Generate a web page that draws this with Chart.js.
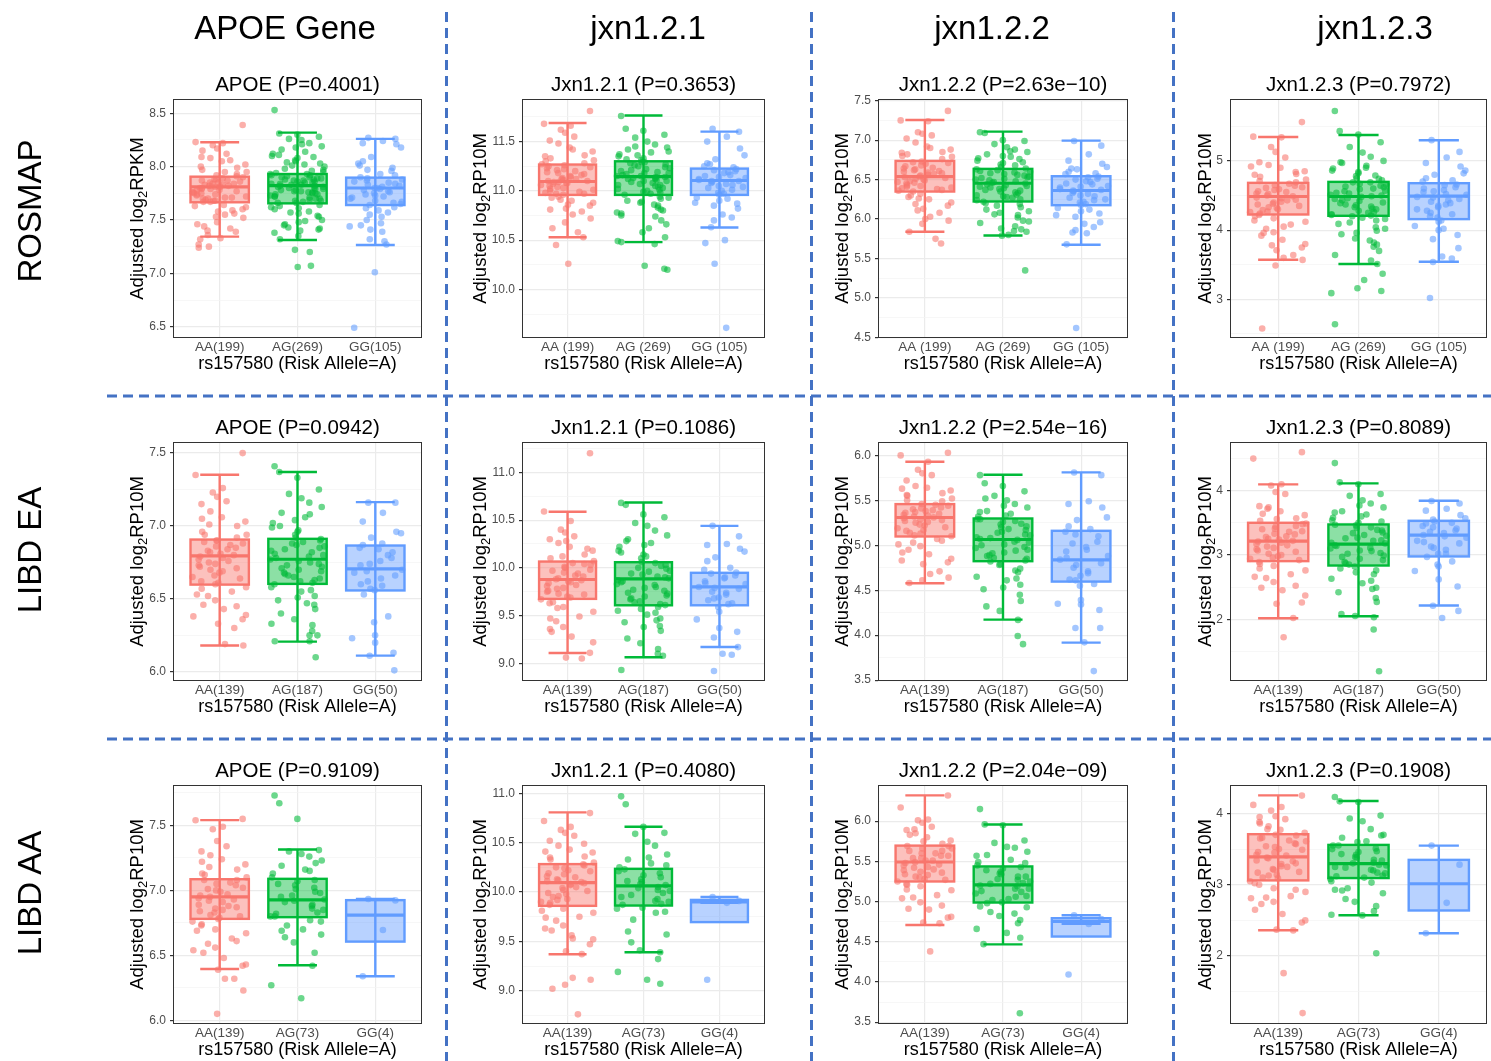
<!DOCTYPE html>
<html>
<head>
<meta charset="utf-8">
<title>rs157580 genotype boxplots</title>
<script src="https://cdn.jsdelivr.net/npm/chart.js@4.4.1/dist/chart.umd.min.js"></script>
<style>
  html, body { margin: 0; padding: 0; background: #fff; }
  body { position: relative; width: 1491px; height: 1061px; overflow: hidden; font-family: "Liberation Sans", Arial, Helvetica, sans-serif; }
  #guides { position: absolute; left: 0; top: 0; }
  .panel { position: absolute; }
  .colhead { position: absolute; font-size: 33px; color: #000; transform: translate(-50%, -50%); white-space: nowrap; }
  .rowhead { position: absolute; font-size: 33px; color: #000; transform: translate(-50%, -50%) rotate(-90deg); white-space: nowrap; }
</style>
</head>
<body>
<canvas id="guides" width="1491" height="1061"></canvas>
<script>
// ---- headings ----
const colNames = ['APOE Gene', 'jxn1.2.1', 'jxn1.2.2', 'jxn1.2.3'];
const rowNames = ['ROSMAP', 'LIBD EA', 'LIBD AA'];

// ---- genotype labels on the x axis ----
const rosmapTight = ['AA(199)', 'AG(269)', 'GG(105)'];
const rosmapSpaced = ['AA (199)', 'AG (269)', 'GG (105)'];
const eaLabels = ['AA(139)', 'AG(187)', 'GG(50)'];
const aaLabels = ['AA(139)', 'AG(73)', 'GG(4)'];

// ---- box summaries: [lower whisker, Q1, median, Q3, upper whisker] for AA, AG, GG ----
const rosmapApoeStats = [[7.344, 7.666, 7.81, 7.906, 8.228], [7.313, 7.656, 7.822, 7.931, 8.319], [7.266, 7.64, 7.80, 7.897, 8.26]];
const rosmapJ1Stats = [[10.53, 10.959, 11.095, 11.267, 11.689], [10.48, 10.959, 11.145, 11.30, 11.764], [10.628, 10.959, 11.105, 11.226, 11.601]];
const rosmapJ2Stats = [[5.839, 6.349, 6.539, 6.737, 7.255], [5.793, 6.223, 6.454, 6.636, 7.108], [5.675, 6.176, 6.362, 6.543, 6.994]];
const rosmapJ3Stats = [[3.572, 4.226, 4.486, 4.683, 5.346], [3.51, 4.207, 4.486, 4.697, 5.375], [3.543, 4.159, 4.49, 4.678, 5.298]];
const eaApoeStats = [[6.18, 6.598, 6.795, 6.907, 7.351], [6.207, 6.603, 6.772, 6.912, 7.37], [6.111, 6.558, 6.706, 6.866, 7.164]];
const eaJ1Stats = [[9.108, 9.675, 9.878, 10.066, 10.587], [9.063, 9.608, 9.885, 10.059, 10.685], [9.171, 9.608, 9.80, 9.948, 10.44]];
const eaJ2Stats = [[4.578, 5.098, 5.309, 5.458, 5.929], [4.173, 4.823, 5.064, 5.298, 5.785], [3.917, 4.596, 4.838, 5.161, 5.811]];
const eaJ3Stats = [[2.016, 2.904, 3.216, 3.501, 4.099], [2.047, 2.836, 3.169, 3.475, 4.114], [2.213, 2.977, 3.309, 3.532, 3.844]];
const aaApoeStats = [[6.395, 6.781, 6.95, 7.086, 7.541], [6.424, 6.794, 6.927, 7.089, 7.315], [6.339, 6.606, 6.809, 6.925, 6.934]];
const aaJ1Stats = [[9.369, 9.86, 10.096, 10.283, 10.807], [9.389, 9.863, 10.063, 10.235, 10.662], [9.89, 9.695, 9.90, 9.92, 9.95]];
const aaJ2Stats = [[4.709, 5.25, 5.492, 5.696, 6.321], [4.467, 4.988, 5.208, 5.437, 5.958], [4.722, 4.565, 4.752, 4.793, 4.83]];
const aaJ3Stats = [[2.362, 3.061, 3.39, 3.709, 4.254], [2.573, 3.094, 3.296, 3.559, 4.174], [2.319, 2.639, 3.014, 3.349, 3.549]];

// ---- sample values per genotype ----
const rosmapApoeAA = [8.39, 8.23, 8.22, 8.20, 8.17, 8.12, 8.09, 8.08, 8.05, 8.02, 7.99, 7.97, 7.95, 7.93, 7.92, 7.90, 7.88, 7.87, 7.85, 7.84, 7.83, 7.82, 7.81, 7.80, 7.79, 7.78, 7.76, 7.75, 7.74, 7.72, 7.71, 7.70, 7.68, 7.67, 7.64, 7.62, 7.60, 7.58, 7.56, 7.55, 7.52, 7.48, 7.44, 7.42, 7.39, 7.36, 7.33, 7.32, 7.27, 7.25, 7.24,
  7.91, 7.89, 7.88, 7.86, 7.85, 7.83, 7.82, 7.80, 7.79, 7.78, 7.77, 7.76, 7.74, 7.73, 7.71, 7.69, 7.68, 7.67, 7.84, 7.81, 7.87, 7.75, 7.70, 7.95, 8.00, 8.06, 8.15, 7.63, 7.59, 7.53, 7.46, 7.40];
const rosmapApoeAG = [8.53, 8.31, 8.30, 8.28, 8.26, 8.25, 8.22, 8.19, 8.16, 8.14, 8.12, 8.10, 8.08, 8.06, 8.05, 8.03, 8.01, 8.00, 7.98, 7.96, 7.95, 7.94, 7.93, 7.92, 7.91, 7.90, 7.89, 7.88, 7.87, 7.86, 7.85, 7.84, 7.83, 7.82, 7.81, 7.80, 7.79, 7.78, 7.77, 7.76, 7.75, 7.74, 7.72, 7.71, 7.70, 7.68, 7.67, 7.66, 7.64, 7.62, 7.60, 7.58, 7.56, 7.53, 7.50, 7.48, 7.45, 7.43, 7.42, 7.40, 7.38, 7.35, 7.32, 7.22, 7.20, 7.07, 7.06,
  7.93, 7.92, 7.90, 7.89, 7.88, 7.86, 7.85, 7.84, 7.83, 7.81, 7.80, 7.79, 7.78, 7.76, 7.75, 7.73, 7.72, 7.70, 7.69, 7.68, 7.66, 7.87, 7.82, 7.77, 7.74, 7.97, 8.02, 8.04, 8.09, 8.11, 8.18, 8.21, 7.63, 7.61, 7.57, 7.54, 7.49, 7.46, 7.41];
const rosmapApoeGG = [8.27, 8.26, 8.24, 8.22, 8.21, 8.18, 8.09, 8.05, 8.01, 7.99, 7.96, 7.93, 7.90, 7.88, 7.86, 7.84, 7.83, 7.81, 7.80, 7.78, 7.77, 7.75, 7.73, 7.71, 7.68, 7.66, 7.64, 7.62, 7.59, 7.57, 7.55, 7.50, 7.47, 7.45, 7.41, 7.39, 7.32, 7.30, 7.27, 7.01, 6.49,
  7.89, 7.87, 7.85, 7.82, 7.80, 7.79, 7.76, 7.74, 7.72, 7.70, 7.67, 7.65, 7.92, 7.97, 8.03, 7.61, 7.53, 7.44];

const rosmapJ1AA = [11.81, 11.68, 11.66, 11.62, 11.59, 11.55, 11.51, 11.48, 11.44, 11.40, 11.36, 11.33, 11.31, 11.28, 11.26, 11.24, 11.22, 11.20, 11.18, 11.16, 11.14, 11.12, 11.11, 11.10, 11.09, 11.08, 11.06, 11.05, 11.03, 11.01, 10.99, 10.97, 10.96, 10.93, 10.90, 10.88, 10.85, 10.82, 10.79, 10.76, 10.72, 10.68, 10.62, 10.58, 10.53, 10.45, 10.26,
  11.25, 11.23, 11.21, 11.19, 11.17, 11.15, 11.13, 11.10, 11.08, 11.07, 11.04, 11.02, 11.00, 10.98, 10.97, 11.27, 11.30, 11.35, 11.42, 11.09, 11.12, 10.94, 10.91, 10.86, 10.81];
const rosmapJ1AG = [11.76, 11.63, 11.61, 11.57, 11.54, 11.50, 11.47, 11.44, 11.42, 11.39, 11.37, 11.35, 11.33, 11.31, 11.29, 11.27, 11.25, 11.23, 11.21, 11.19, 11.18, 11.16, 11.15, 11.14, 11.13, 11.12, 11.10, 11.09, 11.07, 11.06, 11.04, 11.02, 11.00, 10.98, 10.96, 10.94, 10.92, 10.90, 10.88, 10.85, 10.83, 10.80, 10.77, 10.74, 10.70, 10.66, 10.62, 10.58, 10.53, 10.49, 10.48, 10.46, 10.24, 10.21, 10.20,
  11.29, 11.28, 11.26, 11.24, 11.22, 11.20, 11.18, 11.17, 11.15, 11.13, 11.11, 11.10, 11.08, 11.06, 11.05, 11.03, 11.01, 10.99, 10.97, 11.32, 11.36, 11.40, 11.45, 10.93, 10.89, 10.86, 10.81, 10.78, 10.75, 11.14, 11.12];
const rosmapJ1GG = [11.63, 11.60, 11.55, 11.50, 11.43, 11.36, 11.32, 11.28, 11.25, 11.22, 11.20, 11.18, 11.15, 11.13, 11.11, 11.10, 11.09, 11.07, 11.05, 11.03, 11.01, 10.98, 10.96, 10.93, 10.90, 10.87, 10.85, 10.82, 10.76, 10.73, 10.70, 10.63, 10.50, 10.47, 10.26, 9.61,
  11.21, 11.19, 11.16, 11.14, 11.12, 11.10, 11.08, 11.06, 11.04, 11.00, 10.97, 11.24, 11.27, 10.92, 10.88];

const rosmapJ2AA = [7.37, 7.25, 7.24, 7.10, 7.08, 7.06, 7.02, 6.97, 6.92, 6.88, 6.85, 6.82, 6.79, 6.76, 6.73, 6.71, 6.68, 6.65, 6.63, 6.61, 6.59, 6.57, 6.55, 6.53, 6.51, 6.49, 6.47, 6.45, 6.42, 6.40, 6.38, 6.35, 6.32, 6.28, 6.25, 6.21, 6.17, 6.13, 6.08, 6.03, 5.98, 5.94, 5.84, 5.75, 5.69,
  6.72, 6.70, 6.67, 6.64, 6.62, 6.60, 6.58, 6.56, 6.54, 6.52, 6.50, 6.48, 6.46, 6.43, 6.41, 6.39, 6.37, 6.36, 6.80, 6.84, 6.90, 6.30, 6.26, 6.19, 6.11, 6.00];
const rosmapJ2AG = [7.10, 7.09, 7.00, 6.99, 6.95, 6.91, 6.88, 6.85, 6.82, 6.79, 6.77, 6.74, 6.71, 6.69, 6.66, 6.64, 6.62, 6.60, 6.58, 6.56, 6.54, 6.52, 6.50, 6.48, 6.46, 6.44, 6.42, 6.40, 6.38, 6.36, 6.33, 6.30, 6.28, 6.25, 6.22, 6.19, 6.15, 6.12, 6.08, 6.05, 6.02, 5.98, 5.95, 5.91, 5.87, 5.84, 5.80, 5.79, 5.35,
  6.63, 6.61, 6.59, 6.57, 6.55, 6.53, 6.51, 6.49, 6.47, 6.45, 6.43, 6.41, 6.39, 6.37, 6.35, 6.34, 6.31, 6.29, 6.27, 6.24, 6.68, 6.72, 6.76, 6.80, 6.86, 6.20, 6.17, 6.10, 6.06, 5.97, 5.88, 5.85];
const rosmapJ2GG = [6.99, 6.93, 6.82, 6.74, 6.70, 6.66, 6.63, 6.60, 6.57, 6.54, 6.51, 6.48, 6.45, 6.42, 6.40, 6.37, 6.35, 6.32, 6.30, 6.27, 6.24, 6.21, 6.18, 6.14, 6.10, 6.07, 6.03, 5.96, 5.94, 5.90, 5.86, 5.83, 5.82, 5.68, 4.62,
  6.53, 6.50, 6.47, 6.44, 6.41, 6.38, 6.36, 6.33, 6.29, 6.25, 6.22, 6.19, 6.58, 6.64, 6.12, 6.05];

const rosmapJ3AA = [5.56, 5.35, 5.34, 5.20, 5.13, 5.05, 4.98, 4.94, 4.90, 4.85, 4.81, 4.77, 4.73, 4.69, 4.65, 4.62, 4.58, 4.55, 4.52, 4.49, 4.46, 4.43, 4.40, 4.37, 4.33, 4.30, 4.26, 4.22, 4.17, 4.12, 4.08, 4.02, 3.97, 3.92, 3.86, 3.80, 3.75, 3.71, 3.64, 3.60, 3.57, 3.49, 2.58,
  4.67, 4.64, 4.61, 4.59, 4.56, 4.53, 4.50, 4.47, 4.44, 4.41, 4.38, 4.35, 4.32, 4.29, 4.27, 4.24, 4.71, 4.80, 4.84, 4.92, 4.20, 4.14, 4.05, 3.96, 3.78];
const rosmapJ3AG = [5.72, 5.43, 5.38, 5.27, 5.20, 5.12, 5.06, 5.00, 4.97, 4.93, 4.89, 4.86, 4.82, 4.78, 4.75, 4.72, 4.69, 4.66, 4.63, 4.60, 4.57, 4.54, 4.51, 4.49, 4.46, 4.43, 4.40, 4.37, 4.33, 4.30, 4.26, 4.22, 4.18, 4.14, 4.09, 4.04, 3.99, 3.94, 3.88, 3.82, 3.76, 3.70, 3.64, 3.56, 3.51, 3.37, 3.28, 3.16, 3.12, 3.09, 2.64,
  4.69, 4.67, 4.64, 4.62, 4.59, 4.56, 4.53, 4.50, 4.48, 4.45, 4.42, 4.39, 4.36, 4.34, 4.31, 4.28, 4.25, 4.23, 4.21, 4.74, 4.79, 4.84, 4.90, 4.98, 4.20, 4.16, 4.11, 4.02, 3.96, 3.85, 3.79];
const rosmapJ3GG = [5.30, 5.13, 5.05, 4.97, 4.92, 4.86, 4.80, 4.75, 4.70, 4.66, 4.62, 4.58, 4.55, 4.51, 4.48, 4.45, 4.41, 4.37, 4.33, 4.28, 4.23, 4.18, 4.12, 4.06, 4.00, 3.93, 3.87, 3.74, 3.62, 3.59, 3.54, 3.02,
  4.65, 4.60, 4.56, 4.52, 4.47, 4.43, 4.39, 4.35, 4.30, 4.25, 4.20, 4.72, 4.82, 4.14, 4.02];

const eaApoeAA = [7.50, 7.35, 7.26, 7.23, 7.20, 7.17, 7.15, 7.10, 7.06, 7.03, 7.00, 6.96, 6.94, 6.92, 6.90, 6.88, 6.86, 6.84, 6.82, 6.80, 6.78, 6.76, 6.74, 6.72, 6.70, 6.68, 6.65, 6.62, 6.60, 6.58, 6.55, 6.52, 6.49, 6.46, 6.43, 6.39, 6.36, 6.33, 6.30, 6.19, 6.18,
  6.90, 6.89, 6.87, 6.85, 6.83, 6.81, 6.79, 6.77, 6.75, 6.73, 6.71, 6.69, 6.66, 6.64, 6.61, 6.94, 7.01, 7.05, 6.57, 6.53, 6.45, 6.38];
const eaApoeAG = [7.41, 7.37, 7.33, 7.25, 7.22, 7.19, 7.16, 7.13, 7.09, 7.06, 7.02, 6.99, 6.96, 6.94, 6.92, 6.90, 6.88, 6.86, 6.84, 6.82, 6.80, 6.78, 6.77, 6.75, 6.73, 6.71, 6.69, 6.67, 6.65, 6.63, 6.61, 6.58, 6.55, 6.52, 6.49, 6.46, 6.43, 6.40, 6.36, 6.32, 6.28, 6.25, 6.21, 6.21, 6.10,
  6.91, 6.89, 6.87, 6.85, 6.83, 6.81, 6.79, 6.76, 6.74, 6.72, 6.70, 6.68, 6.66, 6.64, 6.62, 6.60, 6.97, 7.00, 7.04, 7.08, 6.56, 6.51, 6.47, 6.33, 6.25];
const eaApoeGG = [7.16, 7.16, 7.09, 7.03, 6.96, 6.95, 6.92, 6.87, 6.85, 6.82, 6.78, 6.76, 6.73, 6.70, 6.68, 6.66, 6.62, 6.59, 6.56, 6.53, 6.38, 6.34, 6.25, 6.23, 6.20, 6.13, 6.11, 6.01,
  6.84, 6.80, 6.74, 6.69, 6.64, 6.60, 6.57, 6.88];

const eaJ1AA = [11.20, 10.59, 10.49, 10.40, 10.37, 10.33, 10.30, 10.26, 10.22, 10.18, 10.14, 10.10, 10.07, 10.04, 10.01, 9.98, 9.95, 9.92, 9.89, 9.87, 9.85, 9.82, 9.79, 9.76, 9.73, 9.70, 9.67, 9.63, 9.59, 9.54, 9.49, 9.44, 9.38, 9.33, 9.28, 9.22, 9.11, 9.06, 9.05,
  10.05, 10.03, 10.00, 9.97, 9.94, 9.91, 9.88, 9.86, 9.84, 9.81, 9.78, 9.75, 9.72, 9.69, 10.12, 10.20, 10.28, 9.64, 9.58, 9.47, 9.36];
const eaJ1AG = [10.68, 10.66, 10.56, 10.53, 10.47, 10.44, 10.39, 10.34, 10.30, 10.26, 10.22, 10.18, 10.14, 10.10, 10.06, 10.03, 10.00, 9.97, 9.94, 9.91, 9.89, 9.86, 9.83, 9.80, 9.77, 9.74, 9.71, 9.68, 9.65, 9.62, 9.59, 9.55, 9.51, 9.47, 9.43, 9.39, 9.34, 9.26, 9.21, 9.15, 9.10, 9.08, 8.93,
  10.05, 10.02, 9.99, 9.96, 9.93, 9.90, 9.87, 9.85, 9.82, 9.79, 9.76, 9.73, 9.70, 9.67, 9.64, 9.61, 10.12, 10.16, 10.24, 10.28, 9.57, 9.53, 9.45, 9.38];
const eaJ1GG = [10.44, 10.33, 10.25, 10.24, 10.20, 10.17, 10.11, 10.07, 9.98, 9.95, 9.92, 9.89, 9.86, 9.83, 9.80, 9.78, 9.75, 9.72, 9.69, 9.66, 9.63, 9.59, 9.54, 9.46, 9.37, 9.33, 9.27, 9.17, 9.10, 9.09, 8.92,
  9.94, 9.90, 9.84, 9.79, 9.74, 9.68, 9.62, 10.00];

const eaJ2AA = [6.03, 6.00, 5.93, 5.84, 5.80, 5.78, 5.72, 5.66, 5.64, 5.61, 5.58, 5.55, 5.52, 5.49, 5.46, 5.44, 5.41, 5.39, 5.37, 5.35, 5.33, 5.31, 5.29, 5.27, 5.25, 5.22, 5.19, 5.16, 5.13, 5.10, 5.07, 5.03, 4.99, 4.95, 4.90, 4.85, 4.81, 4.79, 4.71, 4.68, 4.64, 4.61, 4.58,
  5.45, 5.42, 5.40, 5.38, 5.36, 5.34, 5.32, 5.30, 5.28, 5.26, 5.23, 5.20, 5.17, 5.14, 5.11, 5.50, 5.56, 5.63, 5.05, 5.01, 4.92, 4.83];
const eaJ2AG = [5.78, 5.69, 5.66, 5.60, 5.55, 5.50, 5.46, 5.42, 5.38, 5.35, 5.32, 5.29, 5.26, 5.23, 5.20, 5.17, 5.14, 5.11, 5.08, 5.06, 5.03, 5.00, 4.97, 4.94, 4.91, 4.88, 4.85, 4.82, 4.78, 4.74, 4.70, 4.65, 4.61, 4.56, 4.51, 4.45, 4.38, 4.32, 4.27, 4.17, 3.99, 3.90,
  5.29, 5.27, 5.24, 5.21, 5.18, 5.15, 5.12, 5.09, 5.07, 5.04, 5.01, 4.98, 4.95, 4.92, 4.89, 4.86, 4.83, 5.33, 5.37, 5.44, 5.52, 4.79, 4.72, 4.63, 4.53];
const eaJ2GG = [5.81, 5.78, 5.49, 5.46, 5.42, 5.31, 5.28, 5.21, 5.15, 5.10, 5.04, 4.98, 4.93, 4.88, 4.84, 4.80, 4.75, 4.71, 4.66, 4.62, 4.57, 4.55, 4.39, 4.35, 4.34, 4.28, 4.08, 4.08, 3.92, 3.60,
  5.12, 5.02, 4.95, 4.86, 4.78, 4.69, 4.61, 5.18];

const eaJ3AA = [4.60, 4.50, 4.10, 4.08, 3.98, 3.95, 3.76, 3.74, 3.68, 3.62, 3.57, 3.53, 3.49, 3.45, 3.41, 3.37, 3.33, 3.29, 3.25, 3.22, 3.19, 3.15, 3.11, 3.07, 3.02, 2.98, 2.94, 2.89, 2.83, 2.76, 2.70, 2.64, 2.58, 2.49, 2.45, 2.37, 2.26, 2.24, 2.02, 1.72,
  3.48, 3.44, 3.40, 3.36, 3.32, 3.28, 3.24, 3.21, 3.17, 3.13, 3.09, 3.05, 3.00, 2.96, 2.92, 3.56, 3.64, 3.72, 2.86, 2.79, 2.66, 2.52];
const eaJ3AG = [4.43, 4.13, 4.10, 3.95, 3.92, 3.85, 3.80, 3.74, 3.68, 3.63, 3.58, 3.54, 3.50, 3.46, 3.42, 3.38, 3.34, 3.30, 3.26, 3.22, 3.18, 3.14, 3.10, 3.06, 3.02, 2.97, 2.92, 2.87, 2.82, 2.76, 2.70, 2.63, 2.56, 2.49, 2.42, 2.33, 2.27, 2.08, 2.05, 2.03, 1.84, 1.19,
  3.47, 3.43, 3.39, 3.35, 3.31, 3.27, 3.23, 3.19, 3.15, 3.11, 3.07, 3.03, 2.99, 2.94, 2.89, 2.85, 3.52, 3.60, 3.66, 3.77, 2.79, 2.73, 2.60, 2.47];
const eaJ3GG = [3.84, 3.80, 3.72, 3.69, 3.62, 3.57, 3.52, 3.49, 3.45, 3.41, 3.38, 3.34, 3.31, 3.27, 3.22, 3.18, 3.13, 3.08, 3.02, 2.97, 2.90, 2.85, 2.82, 2.75, 2.62, 2.51, 2.21, 2.13, 2.02,
  3.50, 3.43, 3.36, 3.29, 3.20, 3.11, 3.02, 3.55];

const aaApoeAA = [7.55, 7.54, 7.49, 7.47, 7.38, 7.34, 7.30, 7.27, 7.24, 7.20, 7.16, 7.13, 7.10, 7.08, 7.05, 7.02, 7.00, 6.97, 6.95, 6.93, 6.91, 6.88, 6.86, 6.84, 6.81, 6.79, 6.76, 6.73, 6.70, 6.67, 6.63, 6.59, 6.56, 6.52, 6.48, 6.43, 6.42, 6.39, 6.32, 6.32, 6.23, 6.05,
  7.08, 7.06, 7.04, 7.01, 6.99, 6.96, 6.94, 6.92, 6.89, 6.87, 6.85, 6.83, 6.80, 6.78, 7.12, 7.18, 7.22, 6.74, 6.69, 6.61, 6.54];
const aaApoeAG = [7.73, 7.67, 7.55, 7.31, 7.30, 7.28, 7.26, 7.23, 7.19, 7.16, 7.13, 7.10, 7.07, 7.04, 7.01, 6.98, 6.96, 6.93, 6.91, 6.88, 6.85, 6.82, 6.80, 6.77, 6.73, 6.69, 6.66, 6.64, 6.60, 6.52, 6.42, 6.27, 6.17,
  7.08, 7.05, 7.02, 6.99, 6.95, 6.92, 6.89, 6.86, 6.83, 6.80, 7.15, 7.21, 6.76, 6.70];
const aaApoeGG = [6.934, 6.923, 6.695, 6.339];

const aaJ1AA = [10.80, 10.72, 10.66, 10.63, 10.60, 10.57, 10.52, 10.47, 10.43, 10.40, 10.36, 10.33, 10.30, 10.27, 10.24, 10.21, 10.18, 10.15, 10.12, 10.10, 10.08, 10.05, 10.02, 9.99, 9.96, 9.93, 9.90, 9.87, 9.83, 9.79, 9.75, 9.71, 9.66, 9.61, 9.56, 9.52, 9.47, 9.40, 9.37, 9.13, 9.11, 9.06, 9.02, 8.76,
  10.28, 10.25, 10.22, 10.19, 10.16, 10.13, 10.11, 10.09, 10.07, 10.04, 10.01, 9.98, 9.95, 9.92, 9.89, 10.35, 10.41, 10.49, 9.81, 9.74, 9.63, 9.53];
const aaJ1AG = [10.97, 10.89, 10.66, 10.60, 10.59, 10.51, 10.47, 10.38, 10.33, 10.29, 10.25, 10.21, 10.17, 10.13, 10.10, 10.07, 10.04, 10.01, 9.97, 9.93, 9.90, 9.87, 9.83, 9.79, 9.72, 9.60, 9.57, 9.49, 9.41, 9.39, 9.32, 9.19, 9.11, 9.07,
  10.23, 10.19, 10.15, 10.11, 10.08, 10.05, 10.02, 9.99, 9.95, 9.91, 9.88, 10.27, 10.35, 9.84, 9.80];
const aaJ1GG = [9.95, 9.91, 9.89, 9.11];

const aaJ2AA = [6.32, 6.17, 6.02, 6.01, 5.98, 5.93, 5.89, 5.85, 5.80, 5.76, 5.72, 5.69, 5.66, 5.63, 5.60, 5.57, 5.54, 5.51, 5.49, 5.46, 5.43, 5.40, 5.37, 5.34, 5.31, 5.28, 5.25, 5.22, 5.19, 5.14, 5.08, 5.05, 4.99, 4.91, 4.90, 4.81, 4.80, 4.74, 4.73, 4.38,
  5.69, 5.66, 5.63, 5.60, 5.57, 5.54, 5.51, 5.48, 5.45, 5.42, 5.39, 5.36, 5.33, 5.30, 5.27, 5.75, 5.83, 5.90, 5.21, 5.15, 5.04, 4.95];
const aaJ2AG = [6.15, 5.96, 5.95, 5.76, 5.73, 5.68, 5.67, 5.62, 5.58, 5.52, 5.49, 5.45, 5.41, 5.37, 5.34, 5.31, 5.28, 5.25, 5.22, 5.19, 5.16, 5.13, 5.10, 5.06, 5.02, 4.98, 4.93, 4.87, 4.82, 4.77, 4.73, 4.66, 4.61, 4.55, 4.47, 3.61,
  5.43, 5.39, 5.35, 5.31, 5.27, 5.23, 5.20, 5.16, 5.12, 5.07, 5.03, 4.99, 5.48, 5.57, 4.94, 4.85];
const aaJ2GG = [4.83, 4.781, 4.722, 4.093];

const aaJ3AA = [4.25, 4.12, 4.09, 4.04, 3.96, 3.92, 3.88, 3.82, 3.77, 3.73, 3.69, 3.65, 3.61, 3.57, 3.53, 3.49, 3.45, 3.41, 3.37, 3.33, 3.29, 3.25, 3.21, 3.17, 3.13, 3.09, 3.05, 3.00, 2.95, 2.90, 2.84, 2.82, 2.76, 2.73, 2.59, 2.50, 2.47, 2.37, 2.36, 1.76, 1.20,
  3.70, 3.66, 3.62, 3.58, 3.54, 3.50, 3.46, 3.42, 3.38, 3.34, 3.30, 3.26, 3.22, 3.18, 3.14, 3.10, 3.78, 3.86, 3.95, 3.02, 2.93, 2.81, 2.65];
const aaJ3AG = [4.23, 4.17, 4.16, 3.97, 3.93, 3.89, 3.78, 3.70, 3.66, 3.61, 3.55, 3.50, 3.46, 3.42, 3.38, 3.34, 3.30, 3.27, 3.24, 3.20, 3.16, 3.12, 3.08, 3.03, 2.95, 2.92, 2.88, 2.80, 2.76, 2.70, 2.63, 2.58, 2.57, 2.04,
  3.55, 3.51, 3.47, 3.43, 3.39, 3.35, 3.31, 3.28, 3.25, 3.21, 3.17, 3.13, 3.10, 3.60, 3.69, 3.05, 2.93];
const aaJ3GG = [3.549, 3.282, 2.746, 2.319];

// ---- one entry per facet ----
const panels = [
  { row: 0, col: 0, title: 'APOE (P=0.4001)', unit: 'RPKM', labels: rosmapTight, yMin: 6.394, yMax: 8.634, step: 0.5, stats: rosmapApoeStats, groups: [rosmapApoeAA, rosmapApoeAG, rosmapApoeGG] },
  { row: 0, col: 1, title: 'Jxn1.2.1 (P=0.3653)', unit: 'RP10M', labels: rosmapSpaced, yMin: 9.507, yMax: 11.932, step: 0.5, stats: rosmapJ1Stats, groups: [rosmapJ1AA, rosmapJ1AG, rosmapJ1GG] },
  { row: 0, col: 2, title: 'Jxn1.2.2 (P=2.63e\u221210)', unit: 'RP10M', labels: rosmapSpaced, yMin: 4.494, yMax: 7.521, step: 0.5, stats: rosmapJ2Stats, groups: [rosmapJ2AA, rosmapJ2AG, rosmapJ2GG] },
  { row: 0, col: 3, title: 'Jxn1.2.3 (P=0.7972)', unit: 'RP10M', labels: rosmapSpaced, yMin: 2.442, yMax: 5.894, step: 1, stats: rosmapJ3Stats, groups: [rosmapJ3AA, rosmapJ3AG, rosmapJ3GG] },
  { row: 1, col: 0, title: 'APOE (P=0.0942)', unit: 'RP10M', labels: eaLabels, yMin: 5.937, yMax: 7.576, step: 0.5, stats: eaApoeStats, groups: [eaApoeAA, eaApoeAG, eaApoeGG] },
  { row: 1, col: 1, title: 'Jxn1.2.1 (P=0.1086)', unit: 'RP10M', labels: eaLabels, yMin: 8.815, yMax: 11.318, step: 0.5, stats: eaJ1Stats, groups: [eaJ1AA, eaJ1AG, eaJ1GG] },
  { row: 1, col: 2, title: 'Jxn1.2.2 (P=2.54e\u221216)', unit: 'RP10M', labels: eaLabels, yMin: 3.49, yMax: 6.149, step: 0.5, stats: eaJ2Stats, groups: [eaJ2AA, eaJ2AG, eaJ2GG] },
  { row: 1, col: 3, title: 'Jxn1.2.3 (P=0.8089)', unit: 'RP10M', labels: eaLabels, yMin: 1.039, yMax: 4.758, step: 1, stats: eaJ3Stats, groups: [eaJ3AA, eaJ3AG, eaJ3GG] },
  { row: 2, col: 0, title: 'APOE (P=0.9109)', unit: 'RP10M', labels: aaLabels, yMin: 5.972, yMax: 7.811, step: 0.5, stats: aaApoeStats, groups: [aaApoeAA, aaApoeAG, aaApoeGG] },
  { row: 2, col: 1, title: 'Jxn1.2.1 (P=0.4080)', unit: 'RP10M', labels: aaLabels, yMin: 8.662, yMax: 11.085, step: 0.5, stats: aaJ1Stats, groups: [aaJ1AA, aaJ1AG, aaJ1GG] },
  { row: 2, col: 2, title: 'Jxn1.2.2 (P=2.04e\u221209)', unit: 'RP10M', labels: aaLabels, yMin: 3.477, yMax: 6.45, step: 0.5, stats: aaJ2Stats, groups: [aaJ2AA, aaJ2AG, aaJ2GG] },
  { row: 2, col: 3, title: 'Jxn1.2.3 (P=0.1908)', unit: 'RP10M', labels: aaLabels, yMin: 1.047, yMax: 4.399, step: 1, stats: aaJ3Stats, groups: [aaJ3AA, aaJ3AG, aaJ3GG] }
];

// ---- page layout (pixels) ----
const colPlotLeft = [173, 522, 878, 1230];
const colPlotRight = [425, 768, 1131, 1490];
const colYTitleX = [137, 480, 842, 1205];
const colHeadX = [285, 648, 992, 1375];
const rowPlotTop = [99, 442, 785];
const rowHeadY = [211, 550, 893];
const plotH = 239;
const titleSpace = 30;
const xAxisSpace = 40;

const FONT = '"Liberation Sans", Arial, Helvetica, sans-serif';
const lineColors = ['#F8766D', '#00BA38', '#619CFF'];
const fillColors = ['rgba(248,118,109,0.45)', 'rgba(0,186,56,0.45)', 'rgba(97,156,255,0.45)'];
const dotColors = ['rgba(248,118,109,0.58)', 'rgba(0,186,56,0.58)', 'rgba(97,156,255,0.58)'];

// dashed separators between the facets
const g = document.getElementById('guides').getContext('2d');
g.strokeStyle = '#4472C4';
g.lineWidth = 3;
g.setLineDash([10, 6]);
[446.5, 811.5, 1173.5].forEach(x => { g.beginPath(); g.moveTo(x, 12); g.lineTo(x, 1061); g.stroke(); });
[396, 739].forEach(y => { g.beginPath(); g.moveTo(107, y); g.lineTo(1491, y); g.stroke(); });

colNames.forEach((t, i) => {
  const d = document.createElement('div');
  d.className = 'colhead';
  d.textContent = t;
  d.style.left = colHeadX[i] + 'px';
  d.style.top = '28px';
  document.body.appendChild(d);
});
rowNames.forEach((t, i) => {
  const d = document.createElement('div');
  d.className = 'rowhead';
  d.textContent = t;
  d.style.left = '30px';
  d.style.top = rowHeadY[i] + 'px';
  document.body.appendChild(d);
});

// horizontal spread of the dots around each genotype (deterministic hash of the index)
const jitter = i => {
  const s = Math.sin((i + 1) * 12.9898) * 43758.5453;
  return (s - Math.floor(s) - 0.5) * 0.7;
};

const isMajor = (v, step) => Math.abs(v / step - Math.round(v / step)) < 1e-6;

function facetPlugin(p, yTitleOffset) {
  return {
    id: 'facet',
    beforeDatasetsDraw(chart) {
      const { ctx, chartArea: a, scales: { x, y } } = chart;
      ctx.save();
      ctx.beginPath();
      ctx.rect(a.left, a.top, a.width, a.height);
      ctx.clip();
      p.stats.forEach((s, i) => {
        const [lo, q1, med, q3, hi] = s;
        const cx = x.getPixelForValue(i + 1);
        const half = x.getPixelForValue(i + 1.375) - cx;
        const cap = x.getPixelForValue(i + 1.25) - cx;
        ctx.strokeStyle = lineColors[i];
        ctx.lineWidth = 2.4;
        // error bar with caps
        ctx.beginPath();
        ctx.moveTo(cx, y.getPixelForValue(lo));
        ctx.lineTo(cx, y.getPixelForValue(hi));
        ctx.moveTo(cx - cap, y.getPixelForValue(lo));
        ctx.lineTo(cx + cap, y.getPixelForValue(lo));
        ctx.moveTo(cx - cap, y.getPixelForValue(hi));
        ctx.lineTo(cx + cap, y.getPixelForValue(hi));
        ctx.stroke();
        // box
        const top = y.getPixelForValue(q3);
        const bot = y.getPixelForValue(q1);
        ctx.fillStyle = fillColors[i];
        ctx.fillRect(cx - half, top, 2 * half, bot - top);
        ctx.strokeRect(cx - half, top, 2 * half, bot - top);
        // median
        ctx.lineWidth = 3.2;
        ctx.beginPath();
        ctx.moveTo(cx - half, y.getPixelForValue(med));
        ctx.lineTo(cx + half, y.getPixelForValue(med));
        ctx.stroke();
      });
      ctx.restore();
    },
    afterDraw(chart) {
      const { ctx, chartArea: a } = chart;
      ctx.save();
      ctx.strokeStyle = '#333333';
      ctx.lineWidth = 1;
      ctx.strokeRect(a.left + 0.5, a.top + 0.5, a.width - 1, a.height - 1);

      // facet title
      ctx.fillStyle = '#000';
      ctx.font = '20.5px ' + FONT;
      ctx.textAlign = 'center';
      ctx.textBaseline = 'middle';
      ctx.fillText(p.title, (a.left + a.right) / 2, a.top - 14);

      // y axis title with subscript
      const big = '18.5px ' + FONT;
      const small = '13px ' + FONT;
      const parts = [['Adjusted log', big, 0], ['2', small, 4], [p.unit, big, 0]];
      let total = 0;
      parts.forEach(pt => { ctx.font = pt[1]; total += ctx.measureText(pt[0]).width; });
      ctx.translate(a.left - yTitleOffset, (a.top + a.bottom) / 2);
      ctx.rotate(-Math.PI / 2);
      ctx.textAlign = 'left';
      ctx.textBaseline = 'alphabetic';
      let cur = -total / 2;
      parts.forEach(pt => {
        ctx.font = pt[1];
        ctx.fillText(pt[0], cur, 6 + pt[2]);
        cur += ctx.measureText(pt[0]).width;
      });
      ctx.restore();
    }
  };
}

panels.forEach(p => {
  const left = colYTitleX[p.col] - 14;
  const plotL = colPlotLeft[p.col];
  const plotR = colPlotRight[p.col];
  const top = rowPlotTop[p.row] - titleSpace;
  const w = plotR + 1 - left;
  const h = titleSpace + plotH + xAxisSpace;

  const canvas = document.createElement('canvas');
  canvas.className = 'panel';
  canvas.width = w;
  canvas.height = h;
  canvas.style.left = left + 'px';
  canvas.style.top = top + 'px';
  canvas.style.zIndex = 2;
  document.body.appendChild(canvas);

  const datasets = p.groups.map((vals, gi) => ({
    data: vals.map((v, i) => ({ x: gi + 1 + jitter(i + gi * 101), y: v })),
    backgroundColor: dotColors[gi],
    borderWidth: 0,
    pointRadius: 3.3
  }));

  new Chart(canvas, {
    type: 'scatter',
    data: { datasets },
    options: {
      responsive: false,
      animation: false,
      events: [],
      devicePixelRatio: 1,
      layout: { padding: { top: titleSpace, right: 1, left: 0, bottom: 0 } },
      plugins: { legend: { display: false }, tooltip: { enabled: false } },
      scales: {
        x: {
          type: 'linear',
          min: 0.4,
          max: 3.6,
          afterBuildTicks: s => { s.ticks = [1, 2, 3].map(v => ({ value: v })); },
          afterFit: s => { s.height = xAxisSpace; },
          border: { display: false },
          grid: { color: '#EBEBEB', lineWidth: 1.2, drawTicks: false },
          ticks: {
            autoSkip: false, maxRotation: 0, padding: 3,
            color: '#4D4D4D', font: { family: FONT, size: 13.5, lineHeight: 1 },
            callback: v => p.labels[Math.round(v) - 1]
          },
          title: { display: true, text: 'rs157580 (Risk Allele=A)', color: '#000', font: { family: FONT, size: 18 }, padding: { top: 0, bottom: 3 } }
        },
        y: {
          min: p.yMin,
          max: p.yMax,
          afterFit: s => { s.width = plotL - left; },
          border: { display: false },
          grid: {
            color: c => (c.tick && isMajor(c.tick.value, p.step)) ? '#EBEBEB' : '#F4F4F4',
            lineWidth: c => (c.tick && isMajor(c.tick.value, p.step)) ? 1.2 : 0.7,
            drawTicks: true,
            tickLength: 3,
            tickColor: c => (c.tick && isMajor(c.tick.value, p.step)) ? '#333333' : 'rgba(0,0,0,0)'
          },
          ticks: {
            stepSize: p.step / 2,
            includeBounds: false,
            autoSkip: false,
            padding: 4,
            color: '#4D4D4D',
            font: { family: FONT, size: 12 },
            callback: v => isMajor(v, p.step) ? (p.step >= 1 ? v.toFixed(0) : v.toFixed(1)) : ''
          }
        }
      }
    },
    plugins: [facetPlugin(p, plotL - colYTitleX[p.col])]
  });
});
</script>
</body>
</html>
